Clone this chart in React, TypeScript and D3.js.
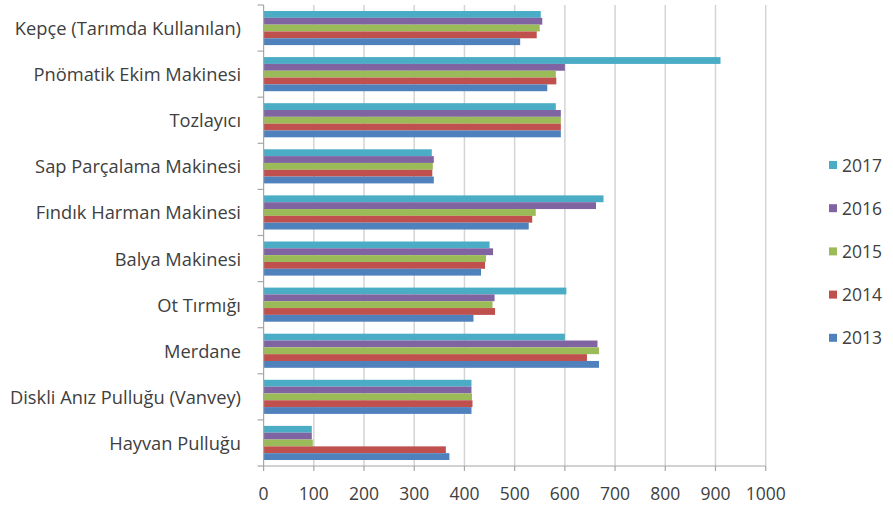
import React from "react";
import * as d3 from "d3";

const categories = [
  "Kepçe (Tarımda Kullanılan)",
  "Pnömatik Ekim Makinesi",
  "Tozlayıcı",
  "Sap Parçalama Makinesi",
  "Fındık Harman Makinesi",
  "Balya Makinesi",
  "Ot Tırmığı",
  "Merdane",
  "Diskli Anız Pulluğu (Vanvey)",
  "Hayvan Pulluğu",
];
const seriesNames = ["2017", "2016", "2015", "2014", "2013"];
const v2017 = [552, 910, 582, 335, 677, 450, 603, 600, 414, 96];
const v2016 = [555, 600, 592, 339, 662, 457, 460, 665, 414, 96];
const v2015 = [550, 582, 592, 337, 542, 443, 456, 668, 415, 98];
const v2014 = [544, 583, 592, 336, 535, 441, 461, 644, 416, 363];
const v2013 = [511, 565, 592, 339, 528, 433, 418, 668, 414, 370];
const seriesValues = [v2017, v2016, v2015, v2014, v2013];
const colors = ["#4BACC6", "#8064A2", "#9BBB59", "#C0504D", "#4F81BD"];
const xTicks = [0, 100, 200, 300, 400, 500, 600, 700, 800, 900, 1000];
const legendOrder = ["2017", "2016", "2015", "2014", "2013"];

export default function App() {
  const W = 893, H = 506;
  const left = 263.6, right = 765.7, top = 5, bottom = 466;
  const x = d3.scaleLinear().domain([0, 1000]).range([left, right]);
  const y = d3.scaleBand<string>().domain(categories).range([top, bottom]).paddingInner(0.26).paddingOuter(0.13);
  const inner = d3.scaleBand<string>().domain(seriesNames).range([0, y.bandwidth()]);
  const step = (bottom - top) / categories.length;
  const font = "'Open Sans', sans-serif";
  const textColor = "#404040";
  return (
    <svg width={W} height={H} style={{ position: "absolute", left: 0, top: 0, background: "#fff" }}>
      {xTicks.slice(1).map((t) => (
        <line key={"g" + t} x1={x(t)} x2={x(t)} y1={top} y2={bottom} stroke="#d4d4d4" strokeWidth={1.5} />
      ))}
      {categories.map((c, ci) =>
        seriesNames.map((s, si) => (
          <rect
            key={c + s}
            x={x(0)}
            y={(y(c) as number) + (inner(s) as number)}
            width={x(seriesValues[si][ci]) - x(0)}
            height={inner.bandwidth()}
            fill={colors[si]}
          />
        ))
      )}
      <line x1={left} x2={right} y1={bottom} y2={bottom} stroke="#a6a6a6" strokeWidth={1.2} />
      <line x1={left} x2={left} y1={top} y2={bottom} stroke="#a6a6a6" strokeWidth={1.2} />
      {xTicks.map((t) => (
        <g key={"t" + t}>
          <line x1={x(t)} x2={x(t)} y1={bottom} y2={bottom + 5} stroke="#a6a6a6" strokeWidth={1.2} />
          <text x={x(t)} y={bottom + 34} textAnchor="middle" fontFamily={font} fontSize={17.5} fill={textColor}>
            {t}
          </text>
        </g>
      ))}
      {d3.range(categories.length + 1).map((i) => (
        <line key={"yt" + i} x1={left - 6} x2={left} y1={top + i * step} y2={top + i * step} stroke="#a6a6a6" strokeWidth={1.2} />
      ))}
      {categories.map((c) => (
        <text
          key={"l" + c}
          x={241}
          y={(y(c) as number) + y.bandwidth() / 2 + 7}
          textAnchor="end"
          fontFamily={font}
          fontSize={18.3}
          fill={textColor}
        >
          {c}
        </text>
      ))}
      {legendOrder.map((s, i) => {
        const si = seriesNames.indexOf(s);
        const ly = 165 + i * 43.2;
        return (
          <g key={"lg" + s}>
            <rect x={829} y={ly - 4} width={8} height={8} fill={colors[si]} />
            <text x={842} y={ly + 6.5} fontFamily={font} fontSize={17.5} fill={textColor}>
              {s}
            </text>
          </g>
        );
      })}
    </svg>
  );
}
